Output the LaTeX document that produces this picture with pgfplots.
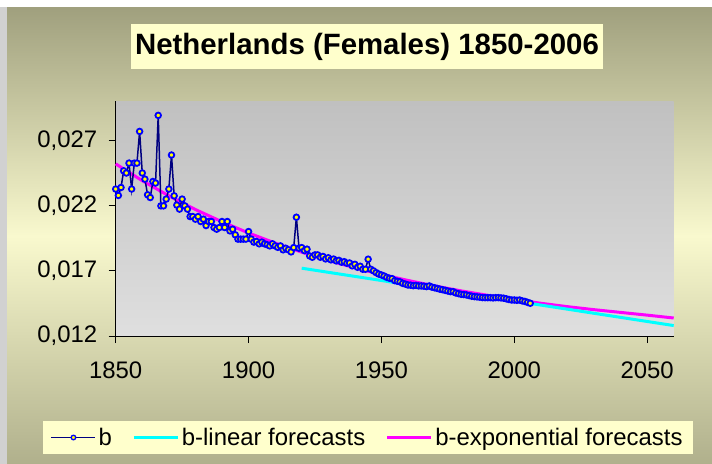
\documentclass[border=0pt]{standalone}
\usepackage{pgfplots}
\usepackage{pgfplotstable}
\pgfplotsset{compat=1.18}
\usepackage{fontspec}
\setmainfont{Liberation Sans}
\definecolor{navyb}{HTML}{000080}
\definecolor{markblue}{HTML}{0000FF}
\definecolor{markyel}{HTML}{FFFF00}
\definecolor{cyanl}{HTML}{00FFFF}
\definecolor{magl}{HTML}{FF00FF}
\definecolor{bgtop}{RGB}{160,160,126}
\definecolor{bgmid}{RGB}{249,249,206}
\definecolor{bgbot}{RGB}{176,176,140}
\definecolor{boxyel}{HTML}{FFFFCC}
\definecolor{pltop}{RGB}{192,192,192}
\definecolor{plbot}{RGB}{223,223,223}

\pgfplotstableread{
year b
1850 0.02327
1851 0.02278
1852 0.02339
1853 0.02467
1854 0.02450
1855 0.02526
1856 0.02327
1857 0.02526
1858 0.02526
1859 0.02769
1860 0.02450
1861 0.02403
1862 0.02283
1863 0.02262
1864 0.02385
1865 0.02373
1866 0.02892
1867 0.02198
1868 0.02198
1869 0.02250
1870 0.02327
1871 0.02588
1872 0.02275
1873 0.02204
1874 0.02173
1875 0.02250
1876 0.02198
1877 0.02173
1878 0.02116
1879 0.02116
1880 0.02096
1881 0.02116
1882 0.02078
1883 0.02096
1884 0.02047
1885 0.02078
1886 0.02078
1887 0.02032
1888 0.02019
1889 0.02032
1890 0.02078
1891 0.02032
1892 0.02078
1893 0.02006
1894 0.02019
1895 0.01976
1896 0.01943
1897 0.01943
1898 0.01943
1899 0.01943
1900 0.02001
1901 0.01943
1902 0.01920
1903 0.01925
1904 0.01907
1905 0.01920
1906 0.01907
1907 0.01900
1908 0.01891
1909 0.01907
1910 0.01891
1911 0.01880
1912 0.01891
1913 0.01861
1914 0.01873
1915 0.01861
1916 0.01845
1917 0.01878
1918 0.02111
1919 0.01873
1920 0.01878
1921 0.01855
1922 0.01866
1923 0.01814
1924 0.01804
1925 0.01822
1926 0.01822
1927 0.01804
1928 0.01810
1929 0.01791
1930 0.01800
1931 0.01784
1932 0.01790
1933 0.01776
1934 0.01780
1935 0.01766
1936 0.01770
1937 0.01758
1938 0.01760
1939 0.01738
1940 0.01750
1941 0.01727
1942 0.01735
1943 0.01712
1944 0.01712
1945 0.01789
1946 0.01712
1947 0.01700
1948 0.01686
1949 0.01675
1950 0.01668
1951 0.01660
1952 0.01650
1953 0.01643
1954 0.01640
1955 0.01625
1956 0.01620
1957 0.01615
1958 0.01604
1959 0.01598
1960 0.01591
1961 0.01590
1962 0.01586
1963 0.01588
1964 0.01584
1965 0.01584
1966 0.01582
1967 0.01579
1968 0.01584
1969 0.01575
1970 0.01570
1971 0.01565
1972 0.01559
1973 0.01555
1974 0.01550
1975 0.01545
1976 0.01540
1977 0.01540
1978 0.01530
1979 0.01525
1980 0.01520
1981 0.01518
1982 0.01515
1983 0.01510
1984 0.01505
1985 0.01502
1986 0.01500
1987 0.01498
1988 0.01495
1989 0.01494
1990 0.01494
1991 0.01494
1992 0.01492
1993 0.01494
1994 0.01494
1995 0.01492
1996 0.01490
1997 0.01485
1998 0.01480
1999 0.01476
2000 0.01476
2001 0.01474
2002 0.01476
2003 0.01469
2004 0.01465
2005 0.01458
2006 0.01451
}\bdata

\pgfplotstableread{
year e
1850 0.02520
1860 0.02391
1870 0.02275
1880 0.02170
1890 0.02076
1900 0.01990
1910 0.01913
1920 0.01843
1930 0.01780
1940 0.01723
1950 0.01672
1960 0.01626
1970 0.01584
1980 0.01546
1990 0.01512
2000 0.01480
2010 0.01451
2020 0.01425
2030 0.01402
2040 0.01381
2050 0.01360
2060 0.01338
}\edata

\pgfplotstableread{
year l
1920 0.01720
2060 0.01280
}\ldata

\begin{document}
\begin{tikzpicture}
\fill[white] (0bp,0bp) rectangle (712bp,464bp);
\fill[black!18] (0bp,0bp) rectangle (7bp,457bp);
\shade[top color=bgtop, bottom color=bgbot, middle color=bgmid] (7bp,0bp) rectangle (712bp,456bp);
\node[fill=boxyel, minimum width=472bp, minimum height=45bp, inner sep=0pt,
      font=\bfseries\fontsize{29.5}{32}\selectfont] at (367bp,417.5bp) {Netherlands (Females) 1850-2006};
\begin{axis}[
  at={(115.7bp,128bp)}, anchor=south west, scale only axis,
  width=558bp, height=234.7bp,
  xmin=1850, xmax=2060, ymin=0.012, ymax=0.030,
  axis x line*=bottom, axis y line*=left,
  axis line style={-, black, line width=0.8bp},
  xtick={1850,1900,1950,2000,2050}, xticklabels={1850,1900,1950,2000,2050},
  ytick={0.012,0.017,0.022,0.027}, yticklabels={{0,012},{0,017},{0,022},{0,027}},
  scaled y ticks=false, scaled x ticks=false,
  tick align=outside, major tick length=7bp,
  tick style={black, line width=0.8bp},
  tick label style={font=\fontsize{24}{28}\selectfont},
  xticklabel style={yshift=-15bp},
  yticklabel style={xshift=-8bp},
  axis background/.style={top color=pltop, bottom color=plbot},
  clip=false,
  legend columns=3,
  legend image code/.code={\draw[mark repeat=2,mark phase=2,#1] plot coordinates {(0bp,0bp) (22bp,0bp) (44bp,0bp)};},
  legend style={at={(axis description cs:0.452,-0.4325)}, anchor=center,
     fill=boxyel, draw=none, font=\fontsize{24}{28}\selectfont,
     inner xsep=7.5bp, inner ysep=4.5bp,
     nodes={inner sep=2.5bp},
     /tikz/every even column/.append style={column sep=18bp}},
]
\addlegendimage{navyb, line width=1.3bp, mark=*, mark size=2.3bp, mark options={draw=markblue, fill=markyel, line width=1.3bp}}
\addlegendentry{b}
\addlegendimage{cyanl, line width=3bp}
\addlegendentry{b-linear forecasts}
\addlegendimage{magl, line width=3bp}
\addlegendentry{b-exponential forecasts}
\addplot[magl, line width=3bp, forget plot] table[x=year,y=e]{\edata};
\addplot[cyanl, line width=3bp, forget plot] table[x=year,y=l]{\ldata};
\addplot[navyb, line width=1.5bp, mark=*, mark size=2.8bp, mark options={draw=markblue, fill=markyel, line width=1.8bp}, forget plot] table[x=year,y=b]{\bdata};
\end{axis}
\end{tikzpicture}
\end{document}
